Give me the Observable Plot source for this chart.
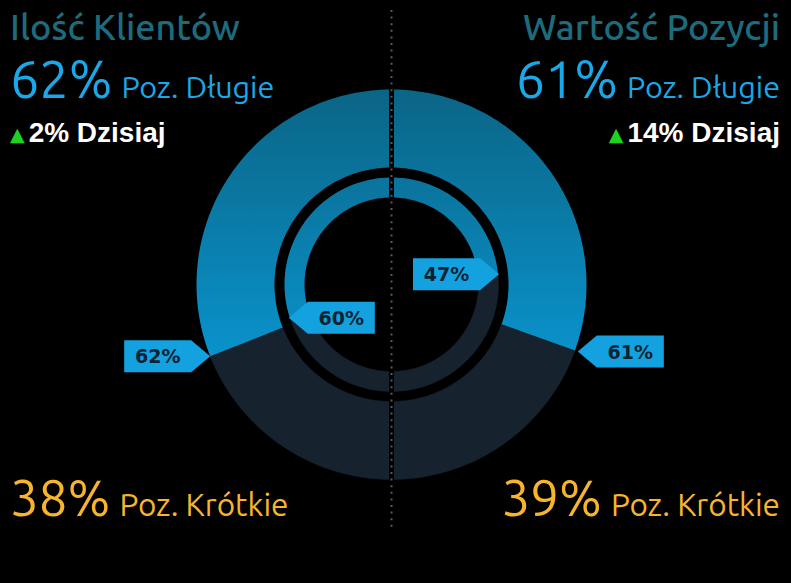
<!DOCTYPE html>
<html>
<head>
<meta charset="utf-8">
<script src="https://cdn.jsdelivr.net/npm/d3@7"></script>
<script src="https://cdn.jsdelivr.net/npm/@observablehq/plot@0.6"></script>
<style>
  html, body { margin: 0; padding: 0; background: #000; }
  #wrap { position: relative; width: 791px; height: 583px; background: #000; overflow: hidden; }
  #wrap > svg { position: absolute; left: 0; top: 0; }
  .ov { position: absolute; left: 0; top: 0; pointer-events: none; }
</style>
</head>
<body>
<div id="wrap"></div>
<script>
// ---- data ----
const sides = ["left", "right"];
const titles = ["Ilość Klientów", "Wartość Pozycji"];
const longOuter = [62, 61];   // outer ring: % long positions
const longInner = [60, 47];   // inner ring: % long positions
const longHeadline = [62, 61];
const shortHeadline = [38, 39];
const todayChange = [2, 14];
const longLabel = "Poz. Długie";
const shortLabel = "Poz. Krótkie";
const todayLabel = "Dzisiaj";

// ---- geometry helpers (1 unit = 1 px) ----
const W = 791, H = 583, CX = 391, CY = 284;
const outerR = [117, 195];
const innerR = [87, 107];

function arcPoly(sign, r0, r1, f0, f1, id) {
  const pts = [];
  const n = Math.max(2, Math.ceil((f1 - f0) * 180));
  for (let i = 0; i <= n; i++) {
    const t = (f0 + (f1 - f0) * i / n) * Math.PI;
    pts.push({id, x: sign * r1 * Math.sin(t), y: r1 * Math.cos(t)});
  }
  for (let i = n; i >= 0; i--) {
    const t = (f0 + (f1 - f0) * i / n) * Math.PI;
    pts.push({id, x: sign * r0 * Math.sin(t), y: r0 * Math.cos(t)});
  }
  pts.push({...pts[0]});
  return pts;
}

const longPolys = [], shortPolys = [];
sides.forEach((s, i) => {
  const sign = s === "left" ? -1 : 1;
  const fo = longOuter[i] / 100, fi = longInner[i] / 100;
  longPolys.push(...arcPoly(sign, outerR[0], outerR[1], 0, fo, s + "-outer-long"));
  shortPolys.push(...arcPoly(sign, outerR[0], outerR[1], fo, 1, s + "-outer-short"));
  longPolys.push(...arcPoly(sign, innerR[0], innerR[1], 0, fi, s + "-inner-long"));
  shortPolys.push(...arcPoly(sign, innerR[0], innerR[1], fi, 1, s + "-inner-short"));
});

// callouts: tip on the ring boundary, box extends outward (outer ring) or inward (inner ring)
const calloutPolys = [], calloutTexts = [];
function callout(sign, r, frac, value, outward, id) {
  const t = frac * Math.PI;
  const tx = sign * r * Math.sin(t), ty = r * Math.cos(t);
  const dir = outward ? sign : -sign;
  const ptr = 19, bw = 67, bh = 32;
  const x0 = tx + dir * ptr, x1 = x0 + dir * bw;
  const pts = [
    {x: tx, y: ty}, {x: x0, y: ty + bh / 2}, {x: x1, y: ty + bh / 2},
    {x: x1, y: ty - bh / 2}, {x: x0, y: ty - bh / 2}, {x: tx, y: ty}
  ].map(p => ({...p, id}));
  calloutPolys.push(...pts);
  calloutTexts.push({x: (x0 + x1) / 2, y: ty, label: value + "%"});
}
sides.forEach((s, i) => {
  const sign = s === "left" ? -1 : 1;
  callout(sign, outerR[1] + (i ? 3 : 0), longOuter[i] / 100, longOuter[i], true, s + "-o");
  callout(sign, innerR[1] + 1, longInner[i] / 100, longInner[i], false, s + "-i");
});

const chart = Plot.plot({
  width: W, height: H,
  marginTop: 0, marginRight: 0, marginBottom: 0, marginLeft: 0,
  style: {background: "#000"},
  x: {domain: [-CX, W - CX], axis: null},
  y: {domain: [CY - H, CY], axis: null},
  marks: [
    Plot.line(shortPolys, {x: "x", y: "y", z: "id", fill: "#16222e", stroke: "#16222e", strokeWidth: 0.5, curve: "linear"}),
    Plot.line(longPolys, {x: "x", y: "y", z: "id", fill: "url(#longGrad)", stroke: "none", curve: "linear"}),
    Plot.ruleX([0], {y1: CY - 8, y2: CY - 532, stroke: "#000", strokeWidth: 5}),
    Plot.ruleX([0], {y1: CY - 10, y2: CY - 530, stroke: "#5a5a5a", strokeWidth: 2, strokeDasharray: "2 4.6"}),
    Plot.line(calloutPolys, {x: "x", y: "y", z: "id", fill: "#13a2df", stroke: "none", curve: "linear"}),
    Plot.text(calloutTexts, {x: "x", y: "y", dy: 1, text: "label", fill: "#0b2333", fontSize: 19, fontWeight: "bold", fontFamily: "DejaVu Sans, Verdana, sans-serif"})
  ]
});

const defs = d3.select(chart).insert("defs", ":first-child");
const g = defs.append("linearGradient").attr("id", "longGrad")
  .attr("gradientUnits", "userSpaceOnUse").attr("x1", 0).attr("x2", 0).attr("y1", 90).attr("y2", 360);
g.append("stop").attr("offset", "0%").attr("stop-color", "#0b6586");
g.append("stop").attr("offset", "100%").attr("stop-color", "#0993cc");

const wrap = document.getElementById("wrap");
wrap.appendChild(chart);

// ---- text overlay ----
const ov = d3.select(wrap).append("svg").attr("class", "ov").attr("width", W).attr("height", H);
const face = "Ubuntu, 'Open Sans', 'Noto Sans', sans-serif";
sides.forEach((s, i) => {
  const left = s === "left";
  const x = left ? 10 : 780;
  const anchor = left ? "start" : "end";
  ov.append("text").attr("x", x).attr("y", 40).attr("text-anchor", anchor)
    .attr("fill", "#1d6c7d").style("font-family", face).style("font-size", "36px").style("font-weight", 500)
    .text(titles[i]);
  const t2 = ov.append("text").attr("x", x).attr("y", 98).attr("text-anchor", anchor)
    .attr("fill", "#1aa8e8").style("font-family", face);
  t2.append("tspan").style("font-size", "52px").text(longHeadline[i] + "%");
  t2.append("tspan").style("font-size", "30.5px").attr("dx", 9).text(longLabel);
  const t3 = ov.append("text").attr("x", x).attr("y", 142).attr("text-anchor", anchor)
    .style("font-family", "'Liberation Sans', Arial, sans-serif").style("font-weight", "bold");
  t3.append("tspan").attr("fill", "#1ed21e").style("font-size", "19px").style("font-family", "'DejaVu Sans', sans-serif").attr("dy", -1).text("▲");
  t3.append("tspan").attr("fill", "#ffffff").style("font-size", "28px").attr("dx", 4).attr("dy", 1).text(todayChange[i] + "% " + todayLabel);
  const t4 = ov.append("text").attr("x", x).attr("y", 516).attr("text-anchor", anchor)
    .attr("fill", "#f7b52e").style("font-family", face);
  t4.append("tspan").style("font-size", "51px").text(shortHeadline[i] + "%");
  t4.append("tspan").style("font-size", "31.5px").attr("dx", 9).text(shortLabel);
});
</script>
</body>
</html>
